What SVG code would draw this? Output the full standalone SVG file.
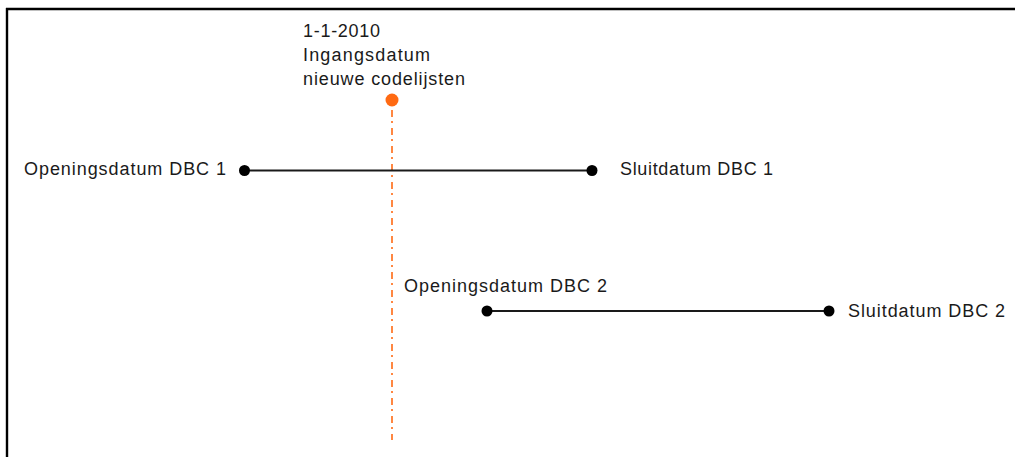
<svg xmlns="http://www.w3.org/2000/svg" width="1015" height="457" viewBox="0 0 1015 457">
<style>
text{font-family:"Liberation Sans",Arial,sans-serif;font-size:18px;fill:#1a1a1a}
.dot{fill:#000}
.bar{stroke:#1a1a1a;stroke-width:1.8;fill:none}
</style>
<rect x="0" y="0" width="1015" height="457" fill="#fff"/>
<g id="frame">
<line x1="6" y1="9" x2="1015" y2="9" stroke="#000" stroke-width="2.4"/>
<line x1="7" y1="8" x2="7" y2="457" stroke="#000" stroke-width="2.4"/>
</g>
<g id="connectors">
<line x1="392" y1="110" x2="392" y2="440" stroke="#FF6A13" stroke-width="1.6" stroke-dasharray="7 4 2 5"/>
<line class="bar" x1="245" y1="170.5" x2="592" y2="170.5"/>
<line class="bar" x1="487" y1="311" x2="829" y2="311"/>
</g>
<g id="ingangsdatum">
<circle cx="392" cy="100" r="6.5" fill="#FF6A13"/>
<text x="303" y="36.5" textLength="77">1-1-2010</text>
<text x="303" y="61" textLength="127">Ingangsdatum</text>
<text x="303" y="85" textLength="162">nieuwe codelijsten</text>
</g>
<g id="opening1">
<circle class="dot" cx="244.5" cy="170.5" r="5.5"/>
<text x="24" y="175" textLength="202">Openingsdatum DBC 1</text>
</g>
<g id="sluit1">
<circle class="dot" cx="592" cy="170.5" r="5.5"/>
<text x="620" y="175" textLength="153">Sluitdatum DBC 1</text>
</g>
<g id="opening2">
<circle class="dot" cx="487" cy="311" r="5.5"/>
<text x="404" y="291.5" textLength="203">Openingsdatum DBC 2</text>
</g>
<g id="sluit2">
<circle class="dot" cx="829" cy="311" r="5.5"/>
<text x="848" y="317" textLength="157">Sluitdatum DBC 2</text>
</g>
</svg>
